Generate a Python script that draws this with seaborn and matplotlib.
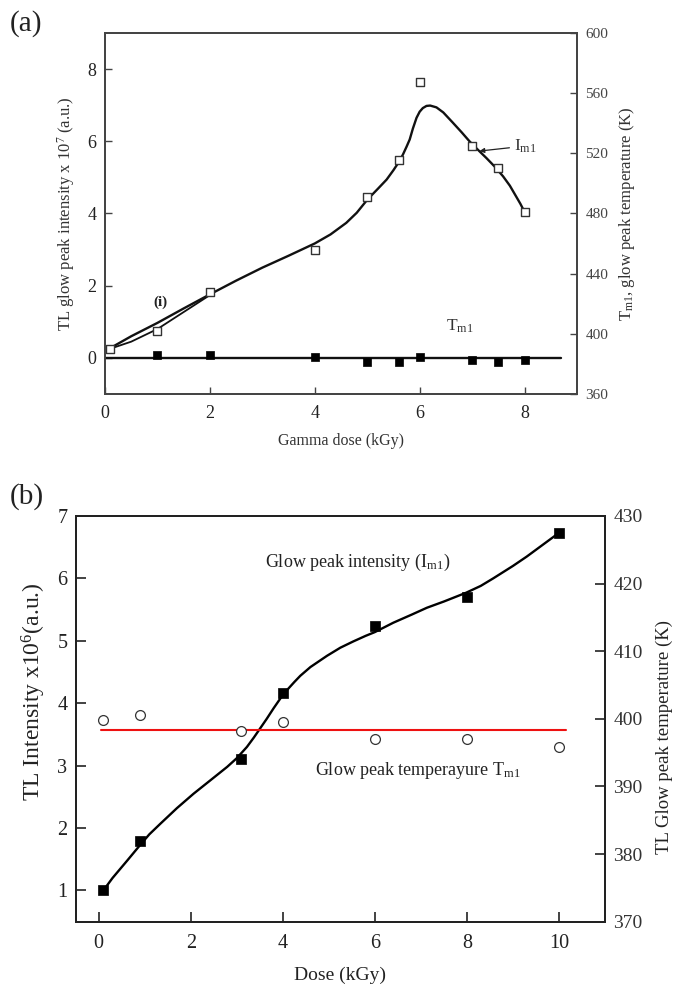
import matplotlib
matplotlib.use("Agg")
import matplotlib.pyplot as plt
import numpy as np
import pandas as pd
import seaborn as sns

# ---- panel (a): gamma dose response ----
dose_a = [0.1, 1.0, 2.0, 4.0, 5.0, 5.6, 6.0, 7.0, 7.5, 8.0]
intensity_a = [0.25, 0.75, 1.83, 2.98, 4.45, 5.47, 7.63, 5.88, 5.25, 4.03]   # x 10^7 a.u.
dose_t_a = [1.0, 2.0, 4.0, 5.0, 5.6, 6.0, 7.0, 7.5, 8.0]
temp_a = [386.2, 385.7, 384.5, 381.4, 381.4, 384.5, 382.3, 381.4, 382.3]      # K
# fitted intensity curve (knots along the drawn fit)
fit_x_a = [0.05, 0.5, 1.0, 1.5, 2.0, 2.5, 3.0, 3.5, 4.0, 4.3, 4.6, 4.8, 5.0,
           5.2, 5.37, 5.5, 5.6, 5.68, 5.75, 5.81, 5.87, 5.94, 6.0, 6.06, 6.13,
           6.2, 6.32, 6.45, 6.63, 6.8, 6.95, 7.1, 7.27, 7.43, 7.59, 7.72, 7.84,
           7.92, 7.98]
fit_y_a = [0.23, 0.6, 0.97, 1.37, 1.76, 2.14, 2.5, 2.83, 3.17, 3.42, 3.74,
           4.02, 4.38, 4.68, 4.94, 5.2, 5.42, 5.63, 5.85, 6.05, 6.35, 6.65,
           6.82, 6.92, 6.98, 6.99, 6.94, 6.8, 6.52, 6.25, 6.0, 5.78, 5.54, 5.3,
           5.03, 4.77, 4.47, 4.27, 4.1]
# second trace near the origin
fit2_x_a = [0.05, 0.5, 1.0, 1.5, 2.0]
fit2_y_a = [0.23, 0.45, 0.8, 1.27, 1.74]
tline_x_a = [0.0, 8.7]
tline_y_a = [384.0, 384.0]

# ---- panel (b): dose response ----
dose_b = [0.1, 0.9, 3.1, 4.0, 6.0, 8.0, 10.0]
intensity_b = [1.0, 1.79, 3.11, 4.17, 5.23, 5.71, 6.73]                  # x 10^6 a.u.
temp_b = [399.9, 400.5, 398.2, 399.5, 397.0, 397.0, 395.9]                # K
fit_x_b = [0.1, 0.3, 0.62, 0.89, 1.1, 1.34, 1.7, 2.06, 2.4, 2.79, 3.0, 3.22,
           3.37, 3.51, 3.65, 3.8, 3.95, 4.09, 4.25, 4.38, 4.6, 4.96, 5.25,
           5.53, 5.8, 6.0, 6.4, 6.8, 7.13, 7.5, 7.98, 8.3, 8.57, 9.0, 9.3,
           9.65, 10.0]
fit_y_b = [1.0, 1.2, 1.48, 1.72, 1.9, 2.07, 2.32, 2.55, 2.75, 2.98, 3.12, 3.3,
           3.45, 3.6, 3.75, 3.92, 4.08, 4.21, 4.34, 4.44, 4.58, 4.76, 4.89,
           4.99, 5.08, 5.14, 5.29, 5.42, 5.53, 5.63, 5.77, 5.88, 6.0, 6.2, 6.35,
           6.54, 6.73]
tline_x_b = [0.05, 10.15]
tline_y_b = [398.4, 398.4]

sns.set_theme(style="ticks")
plt.rcParams["font.family"] = ["Liberation Serif", "DejaVu Serif"]
plt.rcParams["mathtext.fontset"] = "custom"
plt.rcParams["mathtext.rm"] = "Liberation Serif"
plt.rcParams["mathtext.it"] = "Liberation Serif:italic"
plt.rcParams["mathtext.bf"] = "Liberation Serif:bold"
plt.rcParams["lines.solid_joinstyle"] = "round"
plt.rcParams["lines.solid_capstyle"] = "round"

fig = plt.figure(figsize=(6.77, 9.84), dpi=100)
W, H = 677.0, 984.0

def frame(ax, color, width):
    for s in ax.spines.values():
        s.set_color(color)
        s.set_linewidth(width)
        s.set_visible(True)

# ======================= panel (a) =======================
gA = "#444444"
axA = fig.add_axes([105 / W, 1 - 394 / H, (577 - 105) / W, (394 - 33) / H])
axA2 = axA.twinx()

sns.lineplot(x=fit_x_a, y=fit_y_a, ax=axA, color="#111111", lw=1.7, zorder=2)
sns.lineplot(x=fit2_x_a, y=fit2_y_a, ax=axA, color="#111111", lw=1.3, zorder=2)
sns.scatterplot(x=dose_a, y=intensity_a, ax=axA, marker="s", s=38,
                facecolor="white", edgecolor="#333333", linewidth=1.0, zorder=3)
sns.lineplot(x=tline_x_a, y=tline_y_a, ax=axA2, color="#111111", lw=1.7, zorder=2)
sns.scatterplot(x=dose_t_a, y=temp_a, ax=axA2, marker="s", s=40,
                color="black", edgecolor="black", linewidth=0.5, zorder=3)

axA.set_xlim(0, 9)
axA.set_ylim(-1, 9)
axA2.set_ylim(360, 600)
axA.set_xticks([0, 2, 4, 6, 8])
axA.set_yticks([0, 2, 4, 6, 8])
axA2.set_yticks(range(360, 601, 40))
axA.tick_params(direction="in", length=5, width=1, colors=gA, labelsize=13,
                labelcolor="#222222", top=False, right=False, pad=6)
axA.tick_params(axis="x", pad=8)
axA2.tick_params(direction="in", length=5, width=1, colors=gA, labelsize=11,
                 labelcolor="#444444", left=False, pad=6)
axA.set_xlabel("Gamma dose (kGy)", fontsize=11.5, color="#333333", labelpad=8)
axA.set_ylabel("TL glow peak intensity x 10$^{7}$ (a.u.)", fontsize=12,
               color="#333333")
axA.yaxis.set_label_coords(-0.06, 0.5)
axA2.set_ylabel("T$_{\\rm m1}$, glow peak temperature (K)", fontsize=12,
                color="#333333", labelpad=6)
frame(axA, gA, 1.3)
frame(axA2, gA, 1.3)
axA.grid(False)
axA2.grid(False)

axA.text(1.05, 1.55, "(i)", fontsize=11, fontweight="bold", color="#222222",
         ha="center", va="center")
axA.text(6.5, 0.75, "T$_{\\rm m1}$", fontsize=12.5, color="#333333",
         ha="left", va="baseline")
axA.annotate("I$_{\\rm m1}$", xy=(7.14, 5.73), xytext=(7.8, 5.75),
             fontsize=12.5, color="#333333", ha="left", va="baseline",
             arrowprops=dict(arrowstyle="-|>", color="#222222", lw=0.9,
                             mutation_scale=7, shrinkA=1, shrinkB=0))

fig.text(10 / W, 1 - 24 / H, "(a)", fontsize=21, color="#222222",
         ha="left", va="center")

# ======================= panel (b) =======================
gB = "#222222"
axB = fig.add_axes([75.7 / W, 1 - 921.7 / H, (605 - 75.7) / W, (921.7 - 516) / H])
axB2 = axB.twinx()

sns.lineplot(x=fit_x_b, y=fit_y_b, ax=axB, color="black", lw=1.7, zorder=2)
sns.scatterplot(x=dose_b, y=intensity_b, ax=axB, marker="s", s=55,
                color="black", edgecolor="black", linewidth=0.5, zorder=3)
sns.lineplot(x=tline_x_b, y=tline_y_b, ax=axB2, color="#ee1111", lw=1.5, zorder=2)
sns.scatterplot(x=dose_b, y=temp_b, ax=axB2, marker="o", s=50,
                facecolor="white", edgecolor="#333333", linewidth=0.9, zorder=3)

axB.set_xlim(-0.5, 11)
axB.set_ylim(0.5, 7)
axB2.set_ylim(370, 430)
axB.set_xticks([0, 2, 4, 6, 8, 10])
axB.set_yticks([1, 2, 3, 4, 5, 6, 7])
axB2.set_yticks(range(370, 431, 10))
axB.tick_params(direction="in", length=7, width=1.2, colors=gB, labelsize=14.5,
                labelcolor="#222222", top=False, right=False, pad=6)
axB.tick_params(axis="x", pad=9)
axB2.tick_params(direction="in", length=7, width=1.2, colors=gB, labelsize=14,
                 labelcolor="#333333", left=False, pad=6)
axB.set_xlabel("Dose (kGy)", fontsize=14, color="#222222", labelpad=10)
axB.set_ylabel("TL Intensity x10$^{6}$(a.u.)", fontsize=17, color="#222222")
axB.yaxis.set_label_coords(-0.053, 0.566)
axB2.set_ylabel("TL Glow peak temperature (K)", fontsize=13.5, color="#222222",
                labelpad=6)
axB2.yaxis.set_label_coords(1.095, 0.455)
frame(axB, gB, 1.4)
frame(axB2, gB, 1.4)
axB.grid(False)
axB2.grid(False)

axB.text(3.62, 6.25, "Glow peak intensity (I$_{\\rm m1}$)", fontsize=13,
         color="#222222", ha="left", va="center")
axB.text(4.7, 2.93, "Glow peak temperayure T$_{\\rm m1}$", fontsize=13,
         color="#222222", ha="left", va="center")

fig.text(10 / W, 1 - 497 / H, "(b)", fontsize=21, color="#222222",
         ha="left", va="center")

fig.savefig("out.png", dpi=100, facecolor="white")
